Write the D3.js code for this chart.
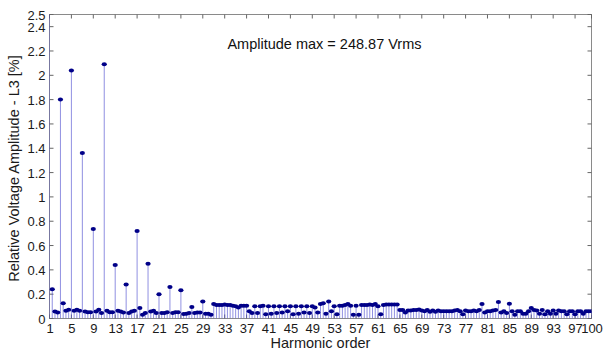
<!DOCTYPE html>
<html><head><meta charset="utf-8">
<script src="https://cdn.jsdelivr.net/npm/d3@7"></script>
<style>body{margin:0;background:#fff;} svg{display:block;font-family:"Liberation Sans",Arial,sans-serif;}</style>
</head><body>
<svg id="c" width="603" height="354"></svg>
<script>
// Harmonic orders (step 0.5) and relative amplitudes [%]
const orderStart = 1, orderStep = 0.5;
const amplitudes = [
 100,0.24, 0.058,0.05, 1.80,0.125, 0.064,0.072, 2.04,0.064, 0.072,0.064, 1.36,0.058, 0.052,0.052,
 0.735,0.058, 0.072,0.045, 2.09,0.064, 0.052,0.052, 0.44,0.064, 0.058,0.05, 0.28,0.045, 0.058,0.064,
 0.72,0.086, 0.031,0.045, 0.45,0.058, 0.064,0.045, 0.20,0.045, 0.045,0.052, 0.26,0.045, 0.052,0.052,
 0.233,0.036, 0.04,0.045, 0.095,0.045, 0.05,0.05, 0.14,0.04, 0.04,0.03,
 0.12,0.11, 0.11,0.11, 0.115,0.11, 0.11,0.105, 0.10,0.09, 0.105,0.105, 0.105,0.06, 0.045,0.10,
 0.045,0.10, 0.105,0.035, 0.10,0.04, 0.10,0.045, 0.10,0.05, 0.10,0.06, 0.10,0.035, 0.10,0.04,
 0.10,0.05, 0.10,0.045, 0.10,0.09, 0.05,0.12, 0.125,0.04, 0.14,0.06, 0.10,0.035, 0.105,0.105,
 0.11,0.12, 0.105,0.03, 0.105,0.03, 0.11,0.11, 0.11,0.115, 0.11,0.12, 0.10,0.035, 0.11,0.115,
 0.115,0.115, 0.115,0.115, 0.07,0.07, 0.05,0.065, 0.065,0.07, 0.07,0.075, 0.065,0.06, 0.07,0.055,
 0.065,0.055, 0.065,0.06, 0.06,0.06, 0.06,0.06, 0.065,0.07, 0.06,0.035, 0.065,0.06, 0.06,0.065,
 0.06,0.07, 0.12,0.05, 0.06,0.06, 0.065,0.07, 0.136,0.05, 0.06,0.045, 0.122,0.06, 0.03,0.06,
 0.06,0.04, 0.04,0.06, 0.086,0.07, 0.065,0.04, 0.07,0.035, 0.06,0.04, 0.065,0.04, 0.065,0.06,
 0.06,0.035, 0.06,0.06, 0.035,0.06, 0.06,0.04, 0.06,0.06, 0.06
];
const xTicks = [1,5,9,13,17,21,25,29,33,37,41,45,49,53,57,61,65,69,73,77,81,85,89,93,97,100];
const yTicks = [0,0.2,0.4,0.6,0.8,1,1.2,1.4,1.6,1.8,2,2.2,2.4,2.5];
const xTitle = "Harmonic order";
const yTitle = "Relative Voltage Amplitude - L3 [%]";
const annotation = "Amplitude max = 248.87 Vrms";

const data = amplitudes.map((v,i)=>({h: orderStart + i*orderStep, v}));

const svg = d3.select("#c");
const L=49.5, R=591.5, T=14.5, B=318.5;
const x = d3.scaleLinear().domain([1,100]).range([L,R]);
const y = d3.scaleLinear().domain([0,2.5]).range([B,T]);

svg.append("defs").append("clipPath").attr("id","clip")
  .append("rect").attr("x",L).attr("y",T).attr("width",R-L).attr("height",B-T);

// box (grey)
svg.append("rect").attr("x",L).attr("y",T).attr("width",R-L).attr("height",B-T)
  .attr("fill","none").attr("stroke","#8a8a8a").attr("stroke-width",1);

// ticks inside (bottom & top, left & right)
const tl=4;
const g = svg.append("g");
xTicks.forEach(t=>{
  g.append("line").attr("x1",x(t)).attr("x2",x(t)).attr("y1",B).attr("y2",B-tl).attr("stroke","#666");
  g.append("line").attr("x1",x(t)).attr("x2",x(t)).attr("y1",T).attr("y2",T+tl).attr("stroke","#666");
});
yTicks.forEach(t=>{
  g.append("line").attr("x1",L).attr("x2",L+tl).attr("y1",y(t)).attr("y2",y(t)).attr("stroke","#666");
  g.append("line").attr("x1",R).attr("x2",R-tl).attr("y1",y(t)).attr("y2",y(t)).attr("stroke","#666");
});

// tick labels via axes
const xAxis = svg.append("g").attr("transform",`translate(0,${B})`)
  .call(d3.axisBottom(x).tickValues(xTicks).tickSize(0).tickPadding(5).tickFormat(d3.format("d")));
const yAxis = svg.append("g").attr("transform",`translate(${L},0)`)
  .call(d3.axisLeft(y).tickValues(yTicks).tickSize(0).tickPadding(4).tickFormat(d=>String(+d.toFixed(1))));
[xAxis,yAxis].forEach(a=>{
  a.select(".domain").remove();
  a.selectAll("text").attr("font-size",13).attr("fill","#1a1a1a").attr("font-family","Liberation Sans, Arial, sans-serif");
});
yAxis.selectAll("text").attr("dy","0.35em");

// stems & markers
const plot = svg.append("g").attr("clip-path","url(#clip)");
plot.selectAll("line.stem").data(data).join("line").attr("class","stem")
  .attr("x1",d=>x(d.h)).attr("x2",d=>x(d.h)).attr("y1",y(0)).attr("y2",d=>y(d.v))
  .attr("stroke","#5050d0").attr("stroke-width",0.8).attr("stroke-opacity",0.8);
plot.selectAll("ellipse.mk").data(data).join("ellipse").attr("class","mk")
  .attr("cx",d=>x(d.h)).attr("cy",d=>y(d.v)).attr("rx",2.6).attr("ry",2)
  .attr("fill","#000088");

// annotation
svg.append("text").attr("x",x(33.5)).attr("y",49).attr("font-size",14.5).attr("fill","#111")
  .text(annotation);

// titles
svg.append("text").attr("x",(L+R)/2).attr("y",348).attr("text-anchor","middle")
  .attr("font-size",14.5).attr("fill","#1a1a1a").text(xTitle);
svg.append("text").attr("transform",`translate(19,${(T+B)/2+2}) rotate(-90)`).attr("text-anchor","middle")
  .attr("font-size",14.5).attr("fill","#1a1a1a").text(yTitle);
</script>
</body></html>
